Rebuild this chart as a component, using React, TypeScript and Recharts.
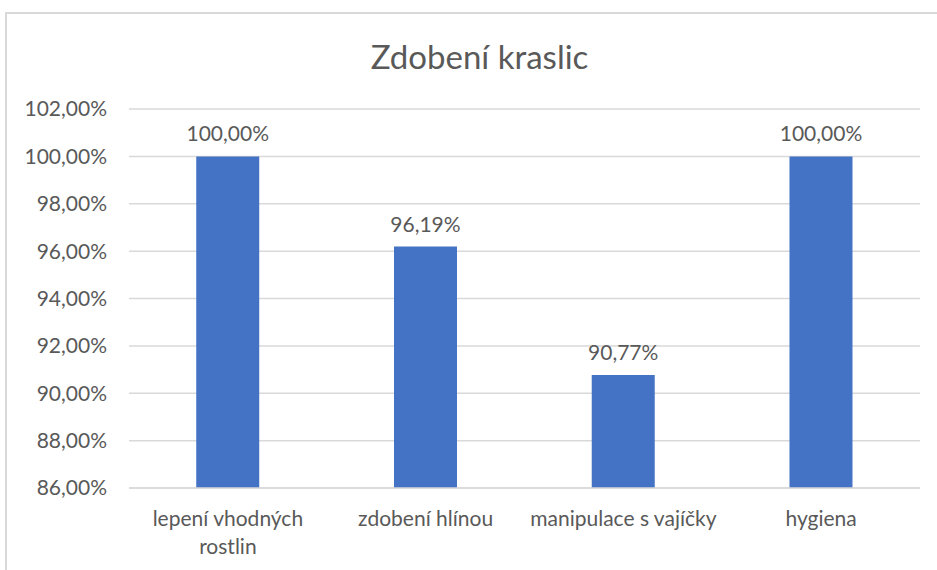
import React from 'react';
import { BarChart, Bar, XAxis, YAxis, CartesianGrid, LabelList } from 'recharts';

const categories = ['lepení vhodných rostlin', 'zdobení hlínou', 'manipulace s vajíčky', 'hygiena'];
const values = [1.0, 0.9619, 0.9077, 1.0];
const yTicks = [0.86, 0.88, 0.9, 0.92, 0.94, 0.96, 0.98, 1.0, 1.02];

const data = categories.map((name, i) => ({ name, value: values[i] }));

const fmt = (v: number) => (v * 100).toFixed(2).replace('.', ',') + '%';

const FONT = 'Lato, "Open Sans", sans-serif';
const TEXT = '#595959';
const FS = 21;

let ctx: CanvasRenderingContext2D | null = null;
const measure = (s: string) => {
  if (!ctx) {
    const c = document.createElement('canvas');
    ctx = c.getContext('2d');
  }
  if (!ctx) return s.length * FS * 0.5;
  ctx.font = `${FS}px ${FONT}`;
  return ctx.measureText(s).width;
};

const wrap = (s: string, max: number) => {
  const words = s.split(' ');
  const lines: string[] = [];
  let cur = '';
  for (const w of words) {
    const t = cur ? cur + ' ' + w : w;
    if (cur && measure(t) > max) {
      lines.push(cur);
      cur = w;
    } else cur = t;
  }
  if (cur) lines.push(cur);
  return lines;
};

const CatTick = (props: any) => {
  const { x, y, payload } = props;
  const lines = wrap(String(payload.value), 197);
  return (
    <text x={x} y={y} textAnchor="middle" fill={TEXT} fontSize={FS} fontFamily={FONT}>
      {lines.map((l, i) => (
        <tspan key={i} x={x} dy={i === 0 ? '0.71em' : 28}>
          {l}
        </tspan>
      ))}
    </text>
  );
};

export default function App() {
  return (
    <div style={{ position: 'absolute', left: 0, top: 0, width: 937, height: 570, overflow: 'hidden', background: '#fff' }}>
      <div
        style={{
          position: 'absolute',
          left: 5,
          top: 12,
          width: 960,
          height: 600,
          borderTop: '2px solid #d9d9d9',
          borderLeft: '2px solid #d9d9d9',
        }}
      />
      <div
        style={{
          position: 'absolute',
          left: 11,
          top: 36,
          width: 937,
          textAlign: 'center',
          fontFamily: FONT,
          fontSize: 33,
          color: TEXT,
          lineHeight: '40px',
        }}
      >
        Zdobení kraslic
      </div>
      <div style={{ position: 'absolute', left: 0, top: 0 }}>
        <BarChart
          width={937}
          height={570}
          data={data}
          margin={{ top: 109, right: 17, left: 0, bottom: 0 }}
          barCategoryGap="34%"
        >
          <CartesianGrid horizontal vertical={false} stroke="#d9d9d9" strokeWidth={1.5} />
          <XAxis
            dataKey="name"
            height={82}
            axisLine={{ stroke: '#d9d9d9', strokeWidth: 1.5 }}
            tickLine={false}
            tickSize={0}
            tickMargin={23}
            tick={<CatTick />}
            interval={0}
          />
          <YAxis
            width={129}
            domain={[0.86, 1.02]}
            ticks={yTicks}
            tickFormatter={fmt}
            axisLine={false}
            tickLine={false}
            tickSize={0}
            tickMargin={22}
            allowDataOverflow
            tick={{ fill: TEXT, fontSize: FS, fontFamily: FONT }}
          />
          <Bar dataKey="value" fill="#4472C4" isAnimationActive={false}>
            <LabelList
              dataKey="value"
              position="top"
              offset={15}
              formatter={(v: any) => fmt(Number(v))}
              fill={TEXT}
              fontSize={FS}
              fontFamily={FONT}
            />
          </Bar>
        </BarChart>
      </div>
    </div>
  );
}
